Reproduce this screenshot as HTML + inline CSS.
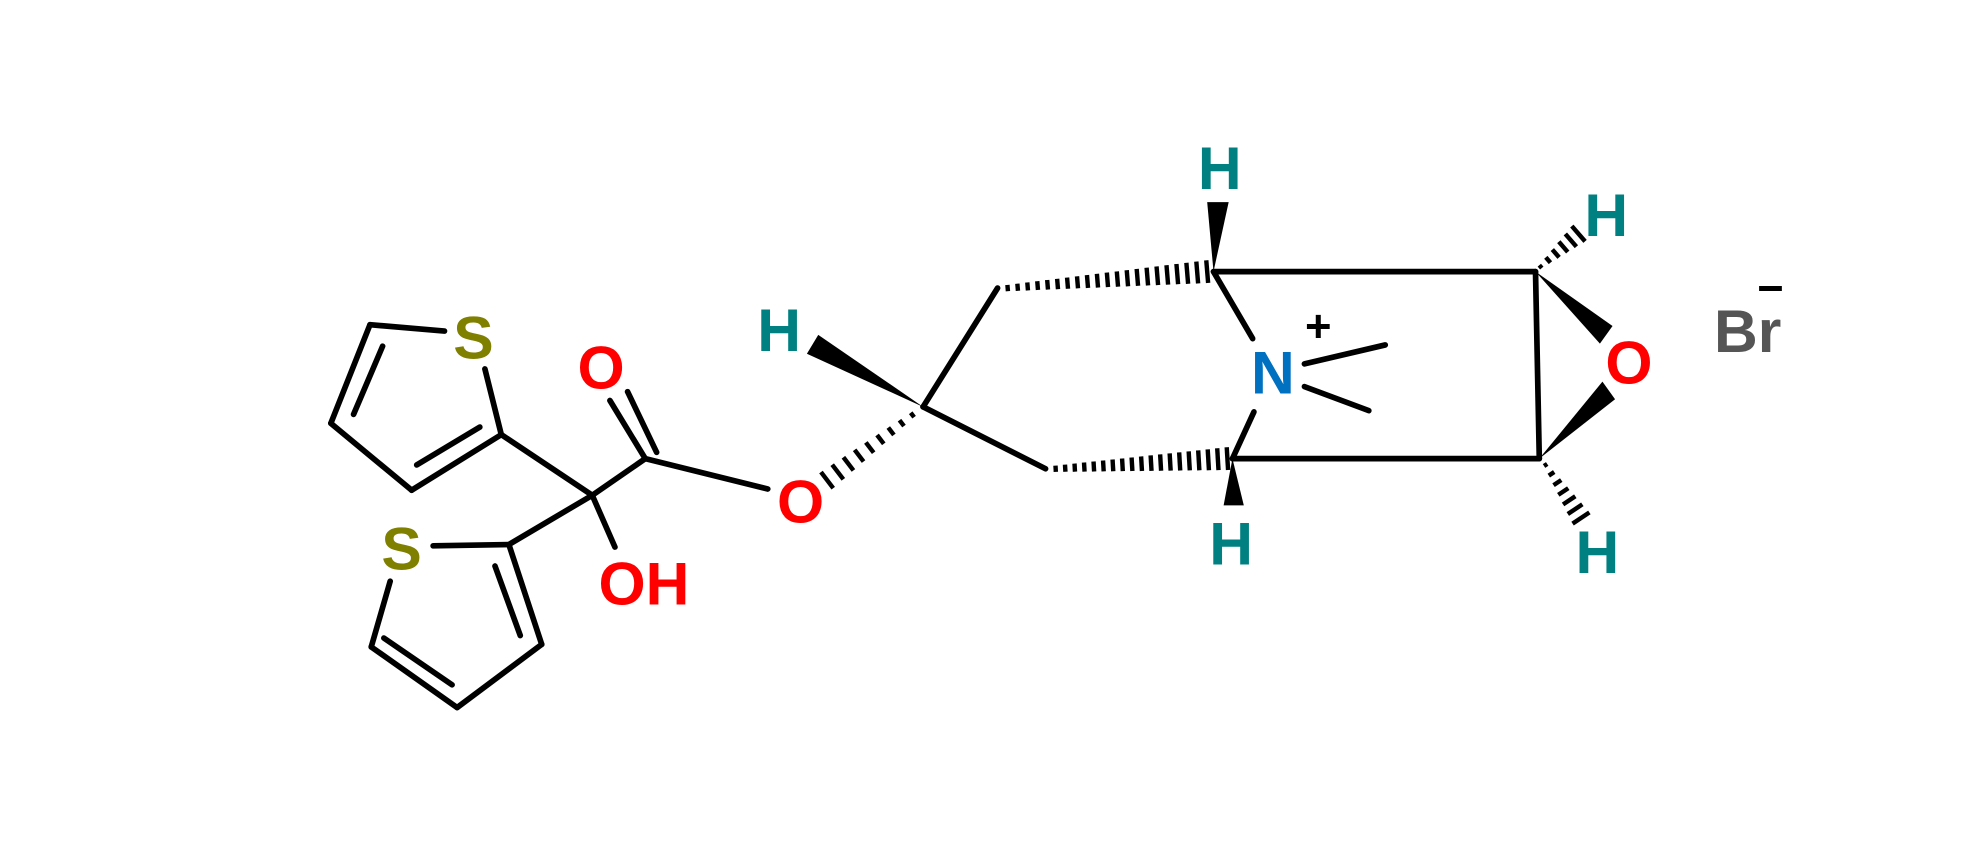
<!DOCTYPE html>
<html><head><meta charset="utf-8"><style>
html,body{margin:0;padding:0;background:#fff;}
svg{display:block;}
text{font-family:"Liberation Sans",sans-serif;font-weight:bold;font-size:48px;text-anchor:middle;dominant-baseline:central;}
</style></head><body>
<svg id="s" width="1980" height="844" viewBox="0 0 1568 668" preserveAspectRatio="none">
<g stroke="#000" stroke-width="4.5" fill="none" stroke-linecap="round">
<line x1="352" y1="262" x2="293" y2="257"/>
<line x1="293" y1="257" x2="262" y2="335"/>
<line x1="303" y1="274" x2="280" y2="328"/>
<line x1="262" y1="335" x2="326" y2="388"/>
<line x1="326" y1="388" x2="397" y2="344"/>
<line x1="330" y1="368" x2="380" y2="338"/>
<line x1="397" y1="344" x2="384" y2="292"/>
<line x1="397" y1="344" x2="469" y2="392"/>
<line x1="469" y1="392" x2="511" y2="363"/>
<line x1="511" y1="363" x2="483" y2="317"/>
<line x1="520" y1="358" x2="497" y2="310"/>
<line x1="511" y1="363" x2="608" y2="387"/>
<line x1="469" y1="392" x2="487" y2="433"/>
<line x1="469" y1="392" x2="403" y2="431"/>
<line x1="343" y1="432" x2="403" y2="431"/>
<line x1="403" y1="431" x2="429" y2="510"/>
<line x1="392" y1="448" x2="412" y2="503"/>
<line x1="429" y1="510" x2="362" y2="560"/>
<line x1="362" y1="560" x2="294" y2="512"/>
<line x1="304" y1="505" x2="358" y2="542"/>
<line x1="294" y1="512" x2="309" y2="460"/>
<line x1="731" y1="322" x2="790" y2="228"/>
<line x1="731" y1="322" x2="828" y2="371"/>
<line x1="961" y1="215" x2="992" y2="268"/>
<line x1="993" y1="326" x2="976" y2="363"/>
<line x1="1033" y1="288" x2="1097" y2="273"/>
<line x1="1033" y1="306" x2="1084" y2="325"/>
<line x1="961" y1="215" x2="1216" y2="215"/>
<line x1="976" y1="363" x2="1219" y2="363"/>
<line x1="1216" y1="215" x2="1219" y2="363"/>
</g>
<g fill="#000">
<polygon points="731,322 648,265 639,280"/>
<polygon points="961,215 956,160 973,160"/>
<polygon points="976,363 969,400 985,400"/>
<polygon points="1216,215 1267,272 1277,258"/>
<polygon points="1219,363 1269,302 1279,316"/>
</g>
<g id="h" stroke="#000" stroke-width="3.5"></g>
<text x="375" y="267" fill="#808000">S</text>
<text x="318" y="434" fill="#808000">S</text>
<text x="476" y="291" fill="#ff0000">O</text>
<text x="510" y="462" fill="#ff0000">OH</text>
<text x="634" y="397" fill="#ff0000">O</text>
<text x="617" y="261" fill="#008080">H</text>
<text x="966" y="133" fill="#008080">H</text>
<text x="975" y="430" fill="#008080">H</text>
<text x="1272" y="170" fill="#008080">H</text>
<text x="1265" y="437" fill="#008080">H</text>
<text x="1008" y="295" fill="#0070c0">N</text>
<text x="1044" y="258" fill="#000" style="font-size:36px">+</text>
<text x="1290" y="287" fill="#ff0000">O</text>
<text x="1384" y="262" fill="#555">Br</text>
<text x="1402" y="228" fill="#000" style="font-size:36px">−</text>
</svg>
<script>
var g=document.getElementById('h');
function hash(x1,y1,x2,y2,w1,w2,n){
 var dx=x2-x1,dy=y2-y1,L=Math.hypot(dx,dy),px=-dy/L,py=dx/L;
 for(var i=0;i<=n;i++){var t=i/n,x=x1+dx*t,y=y1+dy*t,w=(w1+(w2-w1)*t)/2;
  var l=document.createElementNS('http://www.w3.org/2000/svg','line');
  l.setAttribute('x1',x+px*w);l.setAttribute('y1',y+py*w);l.setAttribute('x2',x-px*w);l.setAttribute('y2',y-py*w);g.appendChild(l);}
}
hash(731,322,655,380,3,16,9);
hash(798,228,956,215,5,18,20);
hash(836,371,972,363,5,18,18);
hash(1220,211,1250,185,3,16,5);
hash(1224,368,1252,410,3,16,6);
</script>
</body></html>
